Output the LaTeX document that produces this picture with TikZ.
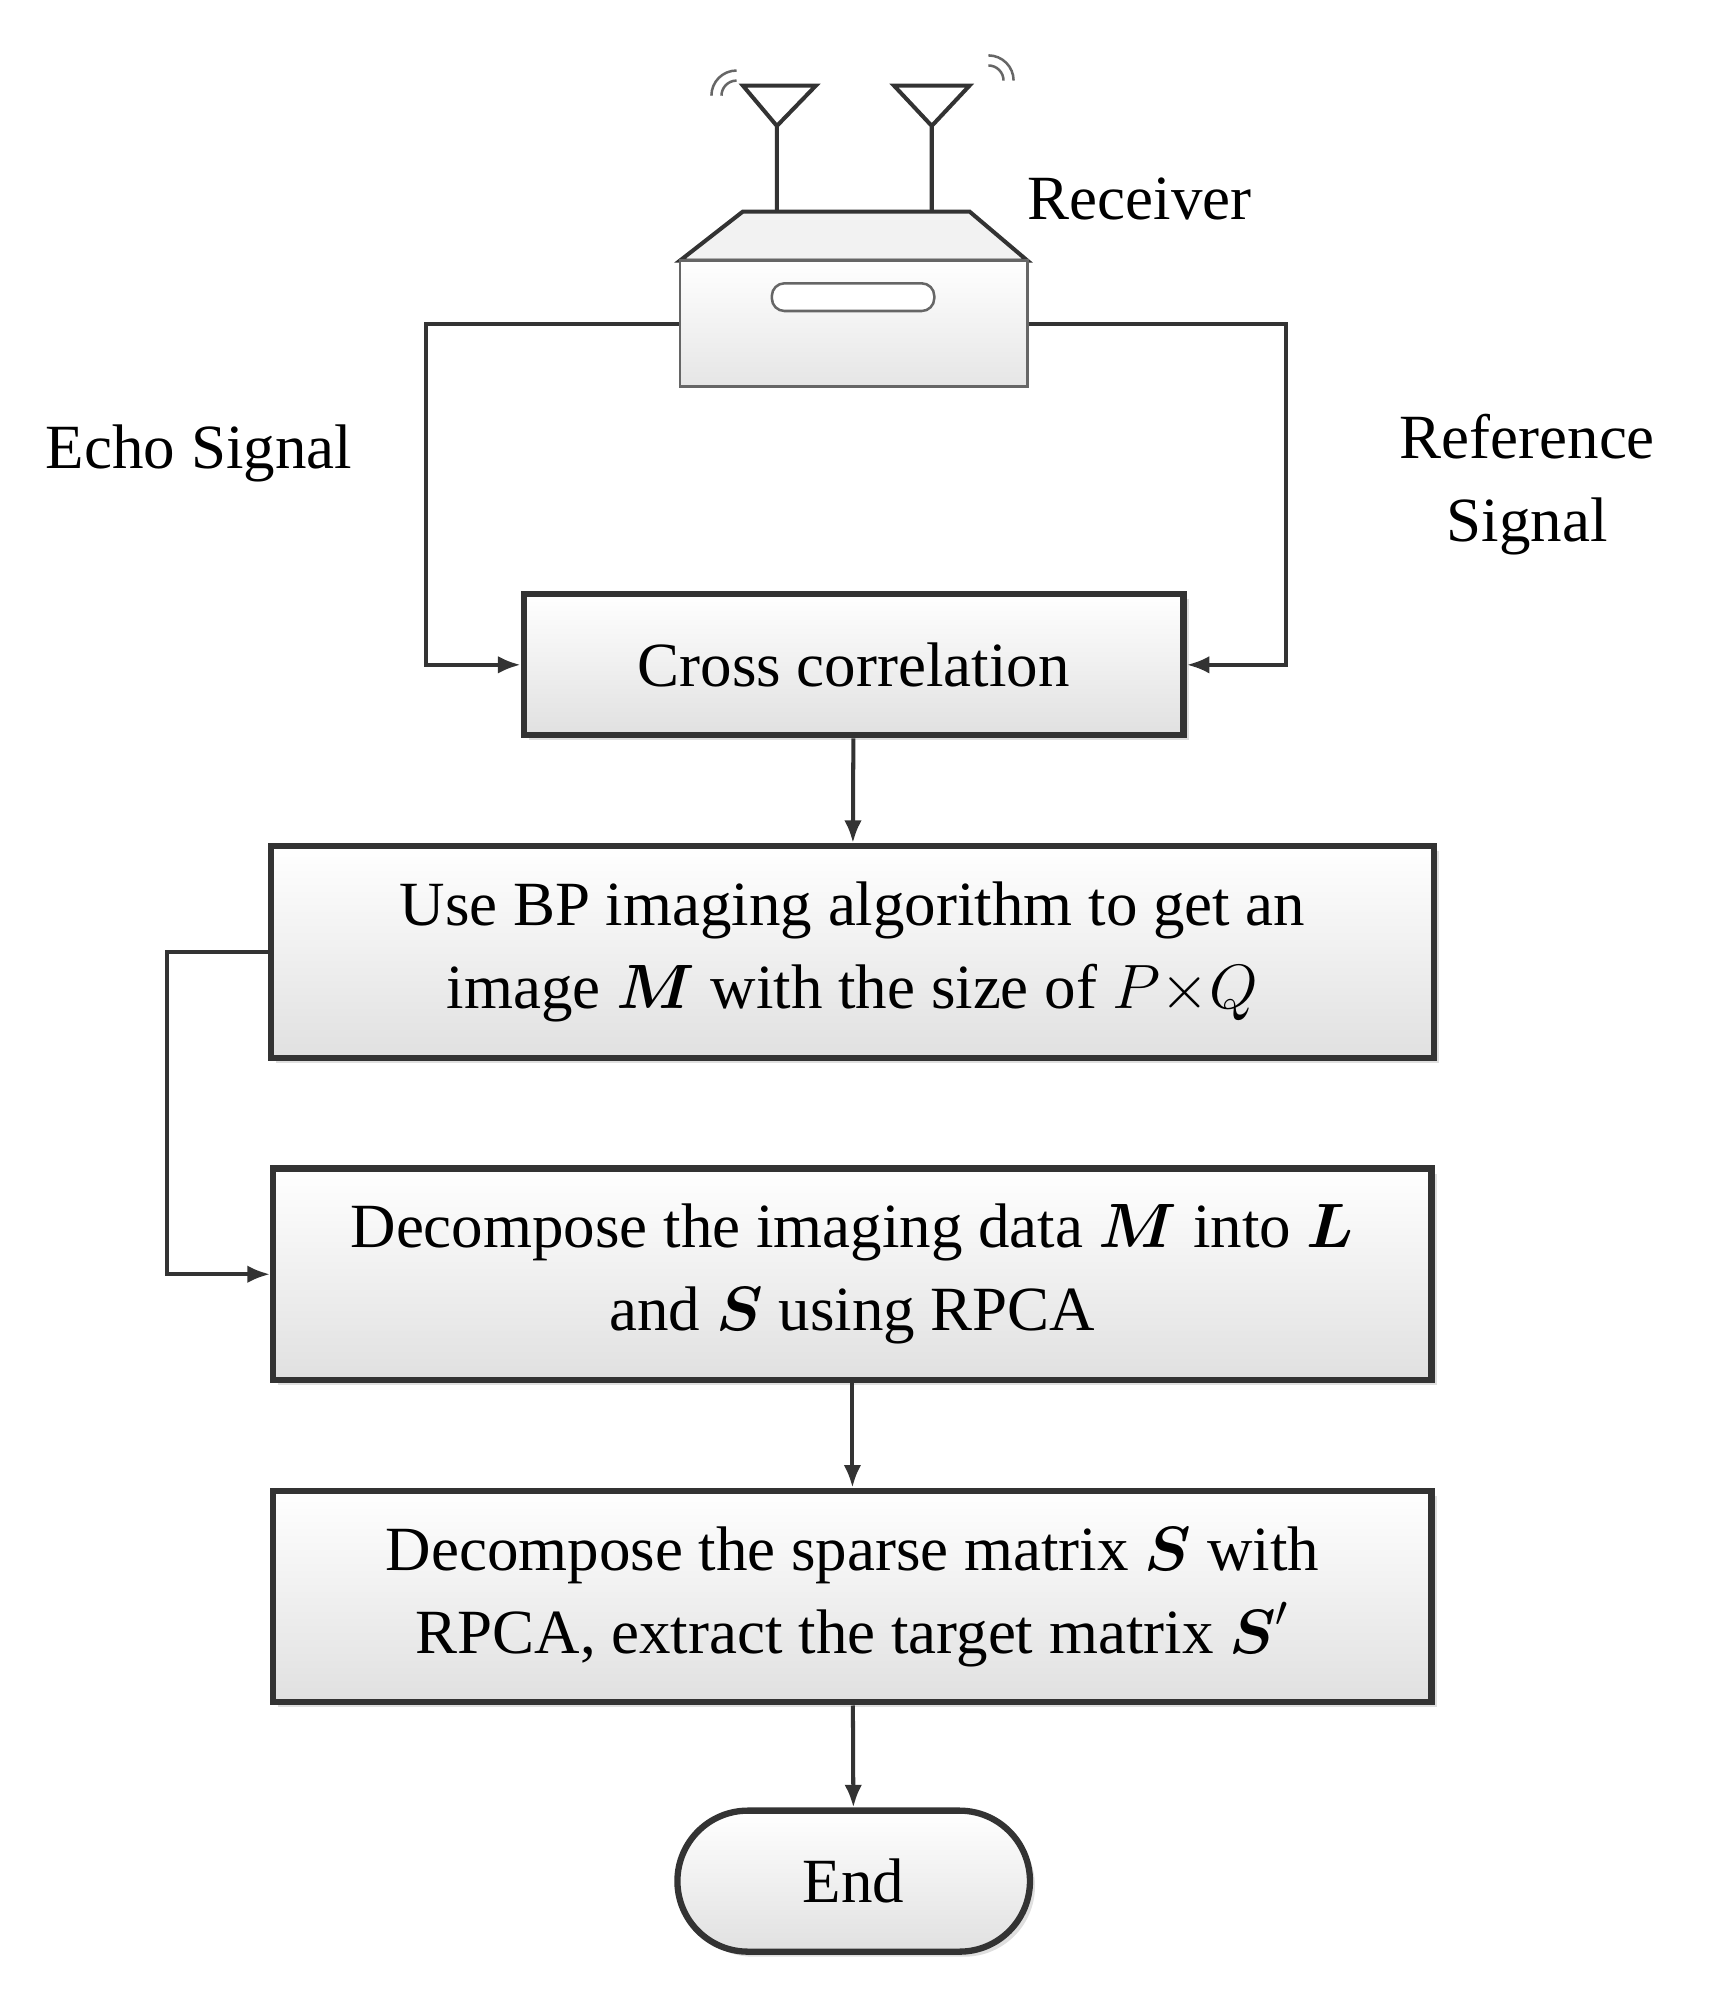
\documentclass[tikz,border=0pt]{standalone}
\usepackage{amsmath}
\usepackage{fontspec}
\setmainfont{Liberation Serif}
\usepackage{tikz}
\usetikzlibrary{positioning,shadows,arrows.meta}

\begin{document}
\begin{tikzpicture}[x=0.5pt, y=-0.5pt, font=\fontsize{25}{33}\selectfont,
	box/.style={draw=black!80, line width=2.5pt, top color=white, bottom color=black!12, drop shadow={opacity=0.25, shadow xshift=2pt, shadow yshift=-2pt}, inner sep=0pt, align=center},
	ln/.style={line width=1.6pt, black!80},
	arr/.style={ln, -{Latex[length=9pt, width=7pt]}}]
	\useasboundingbox (0,0) rectangle (1366,1590);

	% receiver
	\draw[ln, fill=black!5] (540,207) -- (590,168) -- (770,168) -- (816,207) -- cycle;
	\node[draw=black!60, line width=1pt, top color=white, bottom color=black!10, minimum width=138pt, minimum height=50pt, inner sep=0pt] (rx) at (678,257) {};
	\draw[line width=1pt, black!60, fill=white, rounded corners=5pt] (613,225) rectangle (742,247);
	\draw[ln] (617,168) -- (617,100) -- (590,68) -- (648,68) -- (617,100);
	\draw[ln] (740,168) -- (740,100) -- (710,68) -- (770,68) -- (740,100);
	\draw[line width=1pt, black!60] (573,76) arc (180:270:12) (565,76) arc (180:270:20);
	\draw[line width=1pt, black!60] (785,52) arc (270:360:12) (785,44) arc (270:360:20);
	\node (rxl) at (905,158) {Receiver};

	% boxes
	\node[box, minimum width=262pt, minimum height=56pt] (cc) at (678,528) {Cross correlation};
	\node[box, minimum width=462pt, minimum height=84pt] (bp) at (677,756) {Use BP imaging algorithm to get an\\image $\boldsymbol{M}$ with the size of $P{\times}Q$};
	\node[box, minimum width=460pt, minimum height=84pt] (dc) at (677,1012) {Decompose the imaging data $\boldsymbol{M}$ into $\boldsymbol{L}$\\and $\boldsymbol{S}$ using RPCA};
	\node[box, minimum width=460pt, minimum height=84pt] (sp) at (677,1268) {Decompose the sparse matrix $\boldsymbol{S}$ with\\RPCA, extract the target matrix $\boldsymbol{S}'$};
	\node[box, rounded corners=28pt, minimum width=140pt, minimum height=56pt] (end) at (678,1494) {End};

	% labels
	\node (echo) at (158,360) {Echo Signal};
	\node[align=center] (refs) at (1213,385) {Reference\\Signal};

	% connectors
	\draw[arr] (rx.west) -- (338,257) |- (cc.west);
	\draw[arr] (rx.east) -- (1021,257) |- (cc.east);
	\draw[arr] (cc) -- (bp);
	\draw[arr] (bp.west) -- (133,756) |- (dc.west);
	\draw[arr] (dc) -- (sp);
	\draw[arr] (sp) -- (end);
\end{tikzpicture}
\end{document}
